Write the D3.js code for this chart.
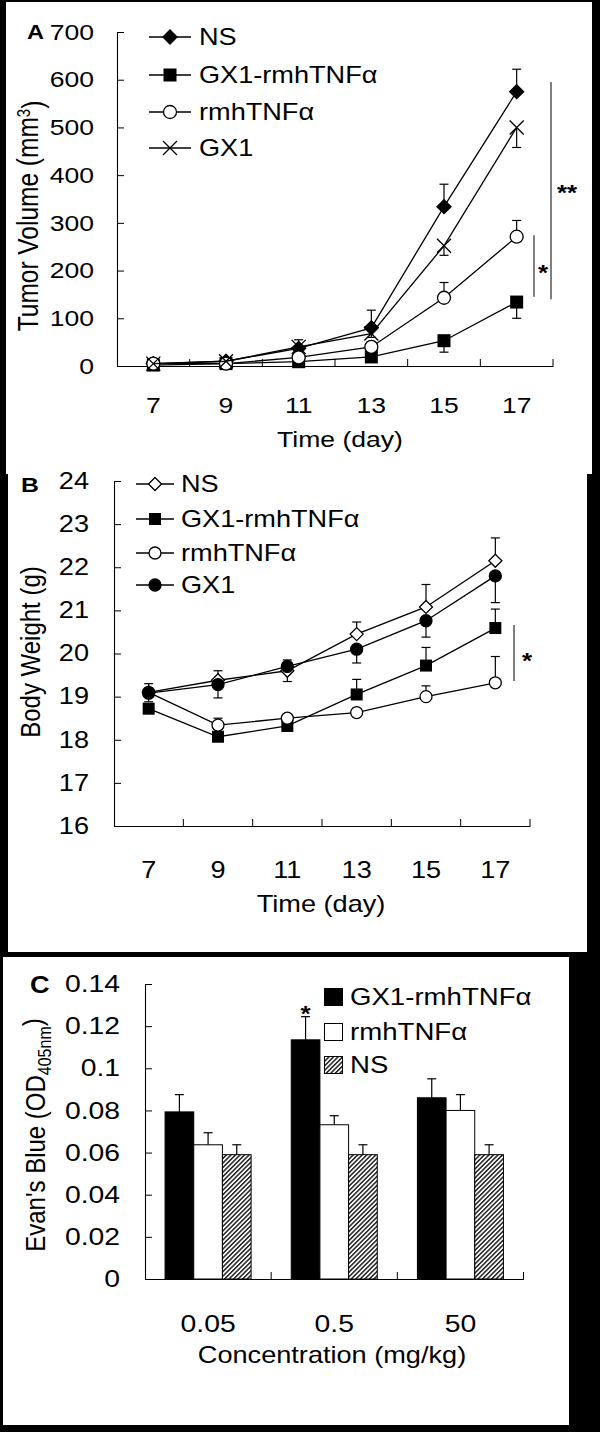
<!DOCTYPE html>
<html><head><meta charset="utf-8">
<script src="https://cdn.jsdelivr.net/npm/d3@7"></script>
<style>
body{margin:0;background:#000;}
svg{display:block;}
text{font-family:"Liberation Sans",Arial,sans-serif;fill:#000;}
</style>
</head><body>
<svg id="c" width="600" height="1432"></svg>
<script>
// ---------- DATA ----------
const days = ["7","9","11","13","15","17"];
const seriesNames = ["NS","GX1-rmhTNFα","rmhTNFα","GX1"];

// Panel A: tumor volume (mm3)
const tumorNS      = [5, 10, 37, 80, 334, 575];
const tumorNSErr   = [2, 4, 18, 37, 47, 47];
const tumorCombo   = [2, 5, 9, 19, 53, 134];
const tumorComboErr= [1, 2, 3, 5, 24, 34];
const tumorTNF     = [5, 5, 18, 40, 143, 271];
const tumorTNFErr  = [2, 3, 5, 10, 32, 34];
const tumorGX1     = [5, 10, 40, 68, 252, 500];
const tumorGX1Err  = [2, 4, 6, 8, 20, 42];
const tumorTicks   = [0,100,200,300,400,500,600,700];

// Panel B: body weight (g)
const bwNS       = [19.1, 19.38, 19.6, 20.45, 21.08, 22.15];
const bwNSErr    = [0.2, 0.22, 0.25, 0.28, 0.52, 0.53];
const bwCombo    = [18.72, 18.07, 18.32, 19.05, 19.72, 20.59];
const bwComboErr = [0.05, 0.05, 0.05, 0.35, 0.42, 0.44];
const bwTNF      = [19.1, 18.34, 18.5, 18.63, 19.0, 19.32];
const bwTNFErr   = [0.05, 0.16, 0.05, 0.1, 0.25, 0.61];
const bwGX1      = [19.08, 19.28, 19.7, 20.1, 20.76, 21.8];
const bwGX1Err   = [0.2, 0.31, 0.35, 0.32, 0.38, 0.62];
const bwTicks    = [16,17,18,19,20,21,22,23,24];

// Panel C: Evan's blue (OD405nm)
const concs      = ["0.05","0.5","50"];
const barSeries  = ["GX1-rmhTNFα","rmhTNFα","NS"];
const evCombo    = [0.0793, 0.1135, 0.086];
const evComboErr = [0.0082, 0.011, 0.009];
const evTNF      = [0.0637, 0.0732, 0.080];
const evTNFErr   = [0.0057, 0.0043, 0.0075];
const evNS       = [0.059, 0.059, 0.059];
const evNSErr    = [0.0047, 0.0047, 0.0047];
const evTicks    = [0, 0.02, 0.04, 0.06, 0.08, 0.1, 0.12, 0.14];

// ---------- DRAW ----------
const SX = 1.18;
const svg = d3.select("#c");
const defs = svg.append("defs");
const pat = defs.append("pattern").attr("id","hatch").attr("patternUnits","userSpaceOnUse")
  .attr("width",3.2).attr("height",3.2).attr("patternTransform","rotate(45)");
pat.append("rect").attr("width",3.2).attr("height",3.2).attr("fill","#fff");
pat.append("rect").attr("width",1.5).attr("height",3.2).attr("fill","#222");

// panel backgrounds
svg.append("rect").attr("x",6).attr("y",2).attr("width",586).attr("height",472).attr("fill","#fff");
svg.append("rect").attr("x",8).attr("y",474).attr("width",579).attr("height",478).attr("fill","#fff");
svg.append("rect").attr("x",3).attr("y",957).attr("width",566).attr("height",468).attr("fill","#fff");

function T(g, x, y, s, o={}) {
  const size = o.size||22, anchor = o.anchor||"middle";
  const tr = o.rot ? `translate(${x},${y}) scale(${SX},1) rotate(-90)` : `translate(${x},${y}) scale(${o.sx||SX},1)`;
  return g.append("text").attr("transform", tr).attr("text-anchor", anchor)
    .style("font-size", size+"px").style("font-weight", o.weight||"normal").text(s);
}
function stretchAxisText(sel) {
  sel.selectAll(".tick text").each(function(){
    const t = d3.select(this);
    const x = +t.attr("x")||0, y = +t.attr("y")||0;
    t.attr("transform", `translate(${x},${y}) scale(${SX},1)`).attr("x",0).attr("y",0);
  });
}
function marker(g, type, x, y, s) {
  s = s || 7;
  const sw = 1.3;
  if (type==="diamond" || type==="diamondOpen") {
    g.append("path").attr("d", `M${x},${y-s}L${x+s},${y}L${x},${y+s}L${x-s},${y}Z`)
      .attr("fill", type==="diamond" ? "#000" : "#fff").attr("stroke","#000").attr("stroke-width",sw);
  } else if (type==="square") {
    g.append("rect").attr("x",x-s+0.5).attr("y",y-s+0.5).attr("width",2*s-1).attr("height",2*s-1).attr("fill","#000");
  } else if (type==="circleOpen" || type==="circle") {
    g.append("circle").attr("cx",x).attr("cy",y).attr("r",s-0.5)
      .attr("fill", type==="circle" ? "#000" : "#fff").attr("stroke","#000").attr("stroke-width",sw);
  } else if (type==="cross") {
    g.append("path").attr("d", `M${x-s},${y-s}L${x+s},${y+s}M${x-s},${y+s}L${x+s},${y-s}`)
      .attr("stroke","#000").attr("stroke-width",sw).attr("fill","none");
  }
}

function linePanel(cfg) {
  const g = svg.append("g");
  const x = d3.scaleBand().domain(days).range(cfg.xr);
  const y = d3.scaleLinear().domain(cfg.yd).range(cfg.yr);
  const ya = g.append("g").attr("transform",`translate(${cfg.xr[0]},0)`)
    .call(d3.axisLeft(y).tickValues(cfg.ticks).tickSize(-7).tickSizeOuter(0).tickPadding(cfg.tp).tickFormat(d3.format("")));
  ya.selectAll("text").style("font-size", cfg.fs+"px").style("font-family","Liberation Sans, Arial, sans-serif");
  stretchAxisText(ya);
  const xa = g.append("g").attr("transform",`translate(0,${cfg.yr[0]})`)
    .call(d3.axisBottom(x).tickSize(0).tickSizeOuter(0).tickPadding(cfg.xtp));
  xa.selectAll("text").style("font-size", cfg.fs+"px").style("font-family","Liberation Sans, Arial, sans-serif");
  stretchAxisText(xa);
  g.selectAll(".domain").attr("stroke","#000").attr("stroke-width",1.1);
  g.selectAll(".tick line").attr("stroke","#000");
  const bounds = days.slice(1).map(d=>x(d)).concat([cfg.xr[1]]);
  g.selectAll(".bt").data(bounds).join("line").attr("x1",d=>d).attr("x2",d=>d)
    .attr("y1",cfg.yr[0]).attr("y2",cfg.yr[0]-7).attr("stroke","#000");
  const cx = d => x(d) + x.bandwidth()/2;
  cfg.series.forEach(s => {
    s.vals.forEach((v,i)=>{
      const e = s.err[i]*s.dir;
      const xx = cx(days[i]);
      g.append("line").attr("x1",xx).attr("x2",xx).attr("y1",y(v)).attr("y2",y(v+e)).attr("stroke","#000").attr("stroke-width",1.2);
      g.append("line").attr("x1",xx-4.5).attr("x2",xx+4.5).attr("y1",y(v+e)).attr("y2",y(v+e)).attr("stroke","#000").attr("stroke-width",1.2);
    });
  });
  cfg.series.forEach(s => {
    const line = d3.line().x((v,i)=>cx(days[i])).y(v=>y(v));
    g.append("path").attr("d", line(s.vals)).attr("fill","none").attr("stroke","#000").attr("stroke-width",1.3);
    s.vals.forEach((v,i)=> marker(g, s.m, cx(days[i]), y(v), cfg.ms));
  });
  cfg.series.forEach((s,i)=>{
    const ly = cfg.leg.ys[i];
    g.append("line").attr("x1",cfg.leg.x1).attr("x2",cfg.leg.x2).attr("y1",ly).attr("y2",ly).attr("stroke","#000").attr("stroke-width",1.3);
    marker(g, s.m, (cfg.leg.x1+cfg.leg.x2)/2, ly, cfg.ms);
    T(g, cfg.leg.tx, ly, s.name, {size:cfg.lfs, anchor:"start"}).attr("dy","0.35em");
  });
  return {g, x, y};
}

// ---- Panel A ----
const A = linePanel({
  xr:[117,553], yd:[0,700], yr:[366,32], ticks:tumorTicks, tp:23, xtp:31, fs:22.5, ms:7, lfs:23,
  series:[
    {name:seriesNames[0], vals:tumorNS, err:tumorNSErr, dir:1, m:"diamond"},
    {name:seriesNames[1], vals:tumorCombo, err:tumorComboErr, dir:-1, m:"square"},
    {name:seriesNames[2], vals:tumorTNF, err:tumorTNFErr, dir:1, m:"circleOpen"},
    {name:seriesNames[3], vals:tumorGX1, err:tumorGX1Err, dir:-1, m:"cross"}
  ],
  leg:{x1:149, x2:191, tx:199, ys:[37,75,112,148]}
});
T(A.g, 27, 39, "A", {size:20, anchor:"start", weight:"bold"});
{
  const t = A.g.append("text").attr("transform",`translate(38,216) scale(${SX},1) rotate(-90)`)
    .attr("text-anchor","middle").style("font-size","24.5px");
  t.append("tspan").text("Tumor Volume (mm");
  t.append("tspan").text("3").attr("dy","-0.45em").style("font-size","15px");
  t.append("tspan").text(")").attr("dy","0.45em");
}
T(A.g, 340, 447, "Time (day)", {size:22.5});
A.g.append("line").attr("x1",551).attr("x2",551).attr("y1",A.y(595)).attr("y2",A.y(140)).attr("stroke","#000");
T(A.g, 567, 200, "**", {size:22, weight:"bold"});
A.g.append("line").attr("x1",534).attr("x2",534).attr("y1",A.y(274)).attr("y2",A.y(145)).attr("stroke","#000");
T(A.g, 543, 280, "*", {size:22, weight:"bold"});

// ---- Panel B ----
const B = linePanel({
  xr:[114,530], yd:[16,24], yr:[826,481], ticks:bwTicks, tp:25, xtp:36, fs:23, ms:6.5, lfs:23,
  series:[
    {name:seriesNames[0], vals:bwNS, err:bwNSErr, dir:1, m:"diamondOpen"},
    {name:seriesNames[1], vals:bwCombo, err:bwComboErr, dir:1, m:"square"},
    {name:seriesNames[2], vals:bwTNF, err:bwTNFErr, dir:1, m:"circleOpen"},
    {name:seriesNames[3], vals:bwGX1, err:bwGX1Err, dir:-1, m:"circle"}
  ],
  leg:{x1:136, x2:174, tx:181, ys:[484,519,553,585]}
});
T(B.g, 21, 492, "B", {size:21, anchor:"start", weight:"bold"});
T(B.g, 40, 652, "Body Weight (g)", {size:24, rot:true});
T(B.g, 321, 912, "Time (day)", {size:23});
B.g.append("line").attr("x1",514).attr("x2",514).attr("y1",625).attr("y2",681).attr("stroke","#000");
T(B.g, 527, 668, "*", {size:22, weight:"bold"});

// ---- Panel C ----
{
  const g = svg.append("g");
  const x0 = d3.scaleBand().domain(concs).range([145,523.5]);
  const x1 = d3.scaleBand().domain(barSeries).range([0,x0.bandwidth()]).paddingOuter(0.7);
  const y = d3.scaleLinear().domain([0,0.14]).range([1279,984]);
  const ya = g.append("g").attr("transform","translate(145,0)")
    .call(d3.axisLeft(y).tickValues(evTicks).tickSize(-7).tickSizeOuter(0).tickPadding(25).tickFormat(d3.format("")));
  ya.selectAll("text").style("font-size","24px").style("font-family","Liberation Sans, Arial, sans-serif");
  stretchAxisText(ya);
  const xa = g.append("g").attr("transform","translate(0,1279)")
    .call(d3.axisBottom(x0).tickSize(0).tickSizeOuter(0).tickPadding(36));
  xa.selectAll("text").style("font-size","24px").style("font-family","Liberation Sans, Arial, sans-serif");
  stretchAxisText(xa);
  g.selectAll(".domain").attr("stroke","#000").attr("stroke-width",1.1);
  g.selectAll(".tick line").attr("stroke","#000");
  const bounds = concs.slice(1).map(d=>x0(d)).concat([523.5]);
  g.selectAll(".bt").data(bounds).join("line").attr("x1",d=>d).attr("x2",d=>d)
    .attr("y1",1279).attr("y2",1272).attr("stroke","#000");
  const sets = [
    {name:barSeries[0], vals:evCombo, err:evComboErr, fill:"#000"},
    {name:barSeries[1], vals:evTNF, err:evTNFErr, fill:"#fff"},
    {name:barSeries[2], vals:evNS, err:evNSErr, fill:"url(#hatch)"}
  ];
  sets.forEach(s=>{
    s.vals.forEach((v,i)=>{
      const bx = x0(concs[i]) + x1(s.name), bw = x1.bandwidth();
      const xm = bx + bw/2;
      g.append("line").attr("x1",xm).attr("x2",xm).attr("y1",y(v)).attr("y2",y(v+s.err[i])).attr("stroke","#000").attr("stroke-width",1.2);
      g.append("line").attr("x1",xm-4.5).attr("x2",xm+4.5).attr("y1",y(v+s.err[i])).attr("y2",y(v+s.err[i])).attr("stroke","#000").attr("stroke-width",1.2);
      g.append("rect").attr("x",bx).attr("y",y(v)).attr("width",bw).attr("height",y(0)-y(v))
        .attr("fill",s.fill).attr("stroke","#000").attr("stroke-width",1);
    });
  });
  const ly = [997,1032,1065];
  sets.forEach((s,i)=>{
    g.append("rect").attr("x",324.5).attr("y",ly[i]-8.5).attr("width",18).attr("height",17)
      .attr("fill",s.fill).attr("stroke","#000").attr("stroke-width",1);
    T(g, 350, ly[i], s.name, {size:24, anchor:"start", sx:1.15}).attr("dy","0.35em");
  });
  T(g, 30, 993, "C", {size:23, anchor:"start", weight:"bold"});
  const t = g.append("text").attr("transform",`translate(45,1135) scale(${SX},1) rotate(-90)`)
    .attr("text-anchor","middle").style("font-size","24px");
  t.append("tspan").text("Evan's Blue (OD");
  t.append("tspan").text("405nm").attr("dy","0.3em").style("font-size","16px");
  t.append("tspan").text(")").attr("dy","-0.3em");
  T(g, 332, 1363, "Concentration (mg/kg)", {size:23});
  T(g, x0("0.5")+x1(barSeries[0])+x1.bandwidth()/2, 1021, "*", {size:22, weight:"bold"});
}
</script>
</body></html>
